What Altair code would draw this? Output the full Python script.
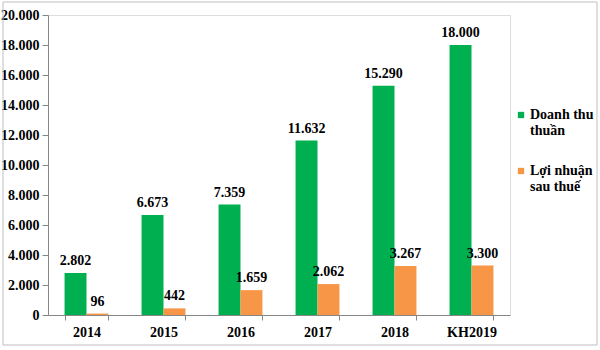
import altair as alt
import pandas as pd

years = ["2014", "2015", "2016", "2017", "2018", "KH2019"]
revenue = [2802, 6673, 7359, 11632, 15290, 18000]
profit = [96, 442, 1659, 2062, 3267, 3300]
series = ["Doanh thu thuần", "Lợi nhuận sau thuế"]
colors = ["#00B050", "#F79646"]

rows = []
for y, r, p in zip(years, revenue, profit):
    rows.append({"year": y, "series": series[0], "value": r})
    rows.append({"year": y, "series": series[1], "value": p})
df = pd.DataFrame(rows)
df["label"] = df["value"].map(lambda v: f"{v:,}".replace(",", "."))

FONT = "Times New Roman"

x = alt.X("year:N", sort=years, title=None,
          scale=alt.Scale(paddingInner=0.43, paddingOuter=0.215),
          axis=alt.Axis(labelAngle=0, labelFont=FONT, labelFontSize=14, labelFontWeight="bold",
                        labelColor="black", domainColor="#868686", tickColor="#868686",
                        tickBand="extent", tickSize=5, labelPadding=5))
y = alt.Y("value:Q", title=None,
          scale=alt.Scale(domain=[0, 20000]),
          axis=alt.Axis(values=list(range(0, 20001, 2000)), grid=False,
                        labelExpr="replace(format(datum.value, ','), regexp(',', 'g'), '.')",
                        labelFont=FONT, labelFontSize=14, labelFontWeight="bold",
                        labelColor="black", domainColor="#868686", tickColor="#868686",
                        tickSize=6, labelPadding=3))
color = alt.Color("series:N", sort=series,
                  scale=alt.Scale(domain=series, range=colors),
                  legend=alt.Legend(title=None, orient="none", legendX=466, legendY=93,
                                    symbolType="square", symbolSize=40, symbolStrokeWidth=0,
                                    labelFont=FONT, labelFontSize=14, labelFontWeight="bold",
                                    labelColor="black", rowPadding=26, labelOffset=2,
                                    labelExpr="datum.label == 'Doanh thu thuần' ? ['Doanh thu', 'thuần'] : ['Lợi nhuận', 'sau thuế']"))
xoff = alt.XOffset("series:N", sort=series)

bars = alt.Chart(df).mark_bar().encode(x=x, y=y, color=color, xOffset=xoff)
texts = alt.Chart(df).mark_text(dy=-12, font=FONT, fontSize=14, fontWeight="bold", color="black").encode(
    x=x, y=y, xOffset=xoff, text="label:N")

frame_df = pd.DataFrame({"k": [0]})
frame = alt.Chart(frame_df).mark_rect(fill=None, stroke="#bfbfbf", strokeWidth=1).encode(
    x=alt.value(-45), x2=alt.value(549), y=alt.value(-13), y2=alt.value(330))

chart = alt.layer(frame, bars, texts).properties(
    width=462, height=300,
    autosize=alt.AutoSizeParams(type="none"),
    padding={"left": 48, "top": 15, "right": 90, "bottom": 35},
).configure_view(stroke=None).configure(background="white", font=FONT)

chart.save("out.html", embed_options={"renderer": "svg", "actions": False})
